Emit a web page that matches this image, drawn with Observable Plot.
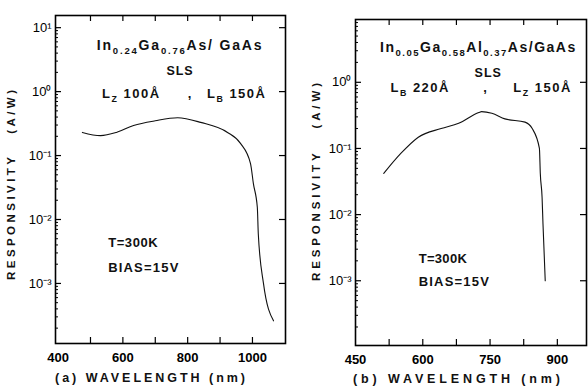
<!DOCTYPE html>
<html><head><meta charset="utf-8">
<script src="https://cdn.jsdelivr.net/npm/d3@7"></script>
<script src="https://cdn.jsdelivr.net/npm/@observablehq/plot@0.6"></script>
<style>
body{margin:0;background:#fff;}
#wrap{display:flex;width:588px;height:388px;font-family:"Liberation Sans",Arial,sans-serif;}
.panel{flex:none;overflow:visible;}
.panel svg{max-width:none;}
</style></head><body>
<div id="wrap"></div>
<script>
// ---- Data ----
const wavelengthA = [475, 531, 580, 633, 700, 769, 840, 923, 963, 994, 1003, 1015, 1018, 1034, 1065];
const responsivityA = [0.23, 0.205, 0.23, 0.295, 0.35, 0.39, 0.33, 0.23, 0.155, 0.075, 0.036, 0.0155, 0.006, 0.001, 0.00026];
const wavelengthB = [513, 551, 590, 641, 680, 725, 731, 754, 783, 828, 844, 860, 862, 866, 868, 873];
const responsivityB = [0.042, 0.084, 0.148, 0.2, 0.24, 0.35, 0.36, 0.34, 0.28, 0.25, 0.2, 0.1, 0.042, 0.018, 0.0072, 0.001];

const decadeTicks = [1e-3, 1e-2, 1e-1, 1, 10];
const xTicksA = [500, 600, 700, 800, 900, 1000];
const xLabelsA = [400, 600, 800, 1000];
const xTicksB = [525, 600, 675, 750, 825, 900];
const xLabelsB = [450, 600, 750, 900];

const titleA = [["In",0],["0.24",1],["Ga",0],["0.76",1],["As/ GaAs",0]];
const titleB = [["In",0],["0.05",1],["Ga",0],["0.58",1],["Al",0],["0.37",1],["As/GaAs",0]];
const layerA = [["L",0],["Z",1],[" 100Å",0]];
const barrierA = [["L",0],["B",1],[" 150Å",0]];
const barrierB = [["L",0],["B",1],[" 220Å",0]];
const layerB = [["L",0],["Z",1],[" 150Å",0]];
const tempText = "T=300K";
const biasText = "BIAS=15V";
const slsText = "SLS";
const yLabel = "RESPONSIVITY   (A/W)";
const xLabelA = "(a) WAVELENGTH (nm)";
const xLabelB = "(b) WAVELENGTH (nm)";

const sup = {"0":"⁰","1":"¹","2":"²","3":"³","4":"⁴","-":"⁻"};
const fmtPow = d => "10" + String(Math.round(Math.log10(d))).split("").map(c => sup[c]).join("");

function minorTicks(lo, hi) {
  const out = [];
  for (let e = -5; e <= 2; e++) for (let m = 2; m <= 9; m++) {
    const v = m * Math.pow(10, e);
    if (v > lo && v < hi) out.push(v);
  }
  return out;
}

function richText(g, x, y, parts, opts) {
  const t = g.append("text").attr("x", x).attr("y", y)
    .attr("font-size", opts.size).attr("font-weight", "bold")
    .attr("letter-spacing", opts.spacing || 0)
    .attr("text-anchor", opts.anchor || "start").attr("fill", "#111");
  let cur = 0;
  for (const [s, isSub] of parts) {
    const shift = isSub ? 4 : 0;
    t.append("tspan").attr("dy", shift - cur)
      .attr("font-size", isSub ? opts.size * 0.68 : opts.size).text(s);
    cur = shift;
  }
  return t;
}

function panel(cfg) {
  const plotW = cfg.width - cfg.ml - cfg.mr, plotH = cfg.height - cfg.mt - cfg.mb;
  const data = cfg.wl.map((w, i) => ({w, r: cfg.resp[i]}));
  const decs = decadeTicks.filter(d => d > cfg.ydomain[0] && d < cfg.ydomain[1]);
  const chart = Plot.plot({
    width: cfg.width, height: cfg.height,
    marginLeft: cfg.ml, marginRight: cfg.mr, marginTop: cfg.mt, marginBottom: cfg.mb,
    x: {domain: cfg.xdomain},
    y: {type: "log", domain: cfg.ydomain},
    marks: [
      Plot.frame({stroke: "black", strokeWidth: 1.6}),
      Plot.tickX(cfg.xticks, {x: d => d, insetTop: plotH - 6, stroke: "black", strokeWidth: 1.2}),
      Plot.tickX(cfg.xticks, {x: d => d, insetBottom: plotH - 6, stroke: "black", strokeWidth: 1.2}),
      Plot.tickY(decs, {y: d => d, insetRight: plotW - 6, stroke: "black", strokeWidth: 1.2}),
      Plot.tickY(minorTicks(cfg.ydomain[0], cfg.ydomain[1]), {y: d => d, insetRight: plotW - 3, stroke: "black", strokeWidth: 1}),
      Plot.tickY(decs, {y: d => d, insetLeft: plotW - 6, stroke: "black", strokeWidth: 1.2}),
      Plot.line(data, {x: "w", y: "r", stroke: "#111", strokeWidth: 1.1, curve: "monotone-x"}),
      Plot.axisX(cfg.xlabels, {tickSize: 0, tickPadding: 9, label: null, fontSize: 13, fontWeight: "bold", tickFormat: d => String(d)}),
      Plot.axisY(decadeTicks.filter(d => d > cfg.ydomain[0] && d <= cfg.ydomain[1] * 1.01), {tickSize: 0, tickPadding: 4, label: null, tickFormat: fmtPow, fontSize: 13})
    ]
  });
  const svg = d3.select(chart);
  svg.attr("font-family", "'Liberation Sans', Arial, sans-serif");
  const X = chart.scale("x"), Y = chart.scale("y");
  const g = svg.append("g").attr("font-family", "'Liberation Sans', Arial, sans-serif");
  for (const a of cfg.notes) {
    richText(g, X.apply(a.x), Y.apply(a.y), a.parts, {size: a.size, spacing: a.spacing, anchor: a.anchor});
  }
  const ycx = cfg.ylab.x, ycy = cfg.mt + plotH / 2 + cfg.ylab.dy;
  g.append("text").attr("transform", `translate(${ycx},${ycy}) rotate(-90)`)
    .attr("text-anchor", "middle").attr("font-size", 11.5).attr("font-weight", "bold")
    .attr("textLength", cfg.ylab.len).attr("lengthAdjust", "spacing").attr("fill", "#111").text(yLabel);
  g.append("text").attr("x", cfg.xlab.x).attr("y", cfg.xlab.y)
    .attr("text-anchor", "start").attr("font-size", 12.5).attr("font-weight", "bold")
    .attr("textLength", cfg.xlab.len).attr("lengthAdjust", "spacing").attr("fill", "#111").text(cfg.xlab.text);
  const div = document.createElement("div");
  div.className = "panel";
  div.style.width = cfg.width + "px";
  div.style.height = cfg.height + "px";
  div.appendChild(chart);
  return div;
}

const wrap = document.getElementById("wrap");
wrap.appendChild(panel({
  width: 290, height: 386, ml: 55, mr: 5, mt: 15, mb: 43,
  xdomain: [392, 1102], ydomain: [1.15e-4, 15.5],
  wl: wavelengthA, resp: responsivityA, xticks: xTicksA, xlabels: xLabelsA,
  ylab: {x: 15, dy: 6, len: 190},
  xlab: {x: 55, y: 382, len: 190, text: xLabelA},
  notes: [
    {x: 778, y: 4.4, parts: titleA, size: 14, spacing: 1.8, anchor: "middle"},
    {x: 778, y: 1.78, parts: [[slsText,0]], size: 12.5, spacing: 1, anchor: "middle"},
    {x: 537, y: 0.78, parts: layerA, size: 13, spacing: 1.5, anchor: "start"},
    {x: 802, y: 0.78, parts: [[",",0]], size: 13, spacing: 0, anchor: "start"},
    {x: 861, y: 0.78, parts: barrierA, size: 13, spacing: 1.5, anchor: "start"},
    {x: 556, y: 0.0036, parts: [[tempText,0]], size: 13, spacing: 0.6, anchor: "start"},
    {x: 556, y: 0.0015, parts: [[biasText,0]], size: 13, spacing: 1.2, anchor: "start"}
  ]
}));
wrap.appendChild(panel({
  width: 298, height: 386, ml: 65, mr: 2, mt: 19, mb: 41,
  xdomain: [450, 965], ydomain: [1.05e-4, 8.9],
  wl: wavelengthB, resp: responsivityB, xticks: xTicksB, xlabels: xLabelsB,
  ylab: {x: 30, dy: 0, len: 198},
  xlab: {x: 63, y: 383, len: 207, text: xLabelB},
  notes: [
    {x: 506, y: 2.85, parts: titleB, size: 14, spacing: 1.5, anchor: "start"},
    {x: 747, y: 1.19, parts: [[slsText,0]], size: 12.5, spacing: 1, anchor: "middle"},
    {x: 529, y: 0.7, parts: barrierB, size: 13, spacing: 1.5, anchor: "start"},
    {x: 736, y: 0.7, parts: [[",",0]], size: 13, spacing: 0, anchor: "start"},
    {x: 803, y: 0.7, parts: layerB, size: 13, spacing: 1.5, anchor: "start"},
    {x: 592, y: 0.0018, parts: [[tempText,0]], size: 13, spacing: 0.3, anchor: "start"},
    {x: 592, y: 0.00081, parts: [[biasText,0]], size: 13, spacing: 1.2, anchor: "start"}
  ]
}));
</script>
</body></html>
